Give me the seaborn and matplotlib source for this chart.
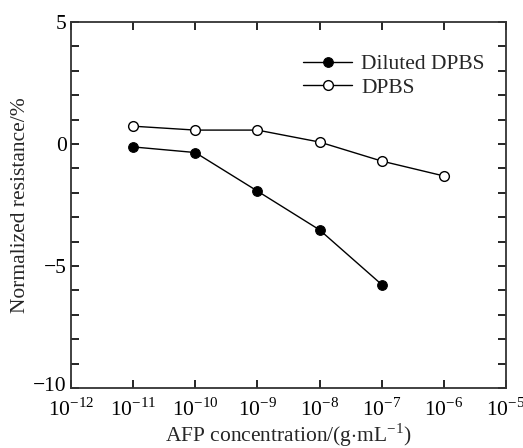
import matplotlib
matplotlib.use("Agg")
import matplotlib.pyplot as plt
import matplotlib.transforms as mtransforms
import seaborn as sns
import pandas as pd
import numpy as np
from matplotlib.ticker import FixedLocator, NullLocator

conc_diluted = [1e-11, 1e-10, 1e-9, 1e-8, 1e-7]
res_diluted = [-0.12, -0.35, -1.93, -3.52, -5.76]
conc_dpbs = [1e-11, 1e-10, 1e-9, 1e-8, 1e-7, 1e-6]
res_dpbs = [0.73, 0.57, 0.57, 0.08, -0.70, -1.31]
x_exponents = list(range(-12, -4))
y_major = [-10, -5, 0, 5]
y_labels = ["\u221210", "\u22125", "0", "5"]

sns.set_theme(style="ticks")
plt.rcParams['font.family'] = ['Liberation Serif', 'DejaVu Serif']
plt.rcParams['mathtext.fontset'] = 'custom'
plt.rcParams['mathtext.rm'] = 'Liberation Serif'

fs = 15.5
fig = plt.figure(figsize=(5.23, 4.48), dpi=100)
ax = fig.add_axes([71/523, 1 - 388/448, (506-71)/523, (388-22)/448])

df1 = pd.DataFrame({"x": conc_diluted, "y": res_diluted})
df2 = pd.DataFrame({"x": conc_dpbs, "y": res_dpbs})
sns.lineplot(data=df1, x="x", y="y", ax=ax, color="black", linewidth=1.0,
             marker="o", markersize=7, markerfacecolor="black",
             markeredgecolor="black", label="Diluted DPBS")
sns.lineplot(data=df2, x="x", y="y", ax=ax, color="black", linewidth=1.0,
             marker="o", markersize=7, markerfacecolor="white",
             markeredgecolor="black", markeredgewidth=1.0, label="DPBS")

ax.set_xscale("log")
ax.set_xlim(1e-12, 1e-5)
ax.set_ylim(-10, 5)
ax.xaxis.set_major_locator(FixedLocator([10.0**e for e in x_exponents]))
ax.xaxis.set_minor_locator(NullLocator())
ax.set_xticklabels([r"$10^{%d}$" % e for e in x_exponents])
ax.set_yticks(y_major)
ax.set_yticklabels(y_labels)
ax.set_yticks(np.arange(-10, 6, 1), minor=True)
ax.tick_params(which="both", direction="in", top=True, right=True,
               labelsize=fs, length=6, width=1.2, colors="black", pad=3)
ax.tick_params(axis="x", pad=7)
ax.tick_params(which="minor", length=6)
for s in ax.spines.values():
    s.set_linewidth(1.3)
    s.set_color("#333333")
# nudge the lowest y label up slightly like the reference
lab = ax.get_yticklabels()[0]
lab.set_transform(lab.get_transform() + mtransforms.ScaledTranslation(0, 4/100, fig.dpi_scale_trans))

ax.set_xlabel(r"AFP concentration/(g$\cdot$mL$^{-1}$)", fontsize=fs, labelpad=1)
ax.set_ylabel("Normalized resistance/%", fontsize=fs, labelpad=2)

leg = ax.legend(loc="upper right", frameon=False, fontsize=fs,
                bbox_to_anchor=(0.995, 0.965), handlelength=2.3,
                handletextpad=0.4, labelspacing=0.15)

fig.savefig("out.png", dpi=100)
